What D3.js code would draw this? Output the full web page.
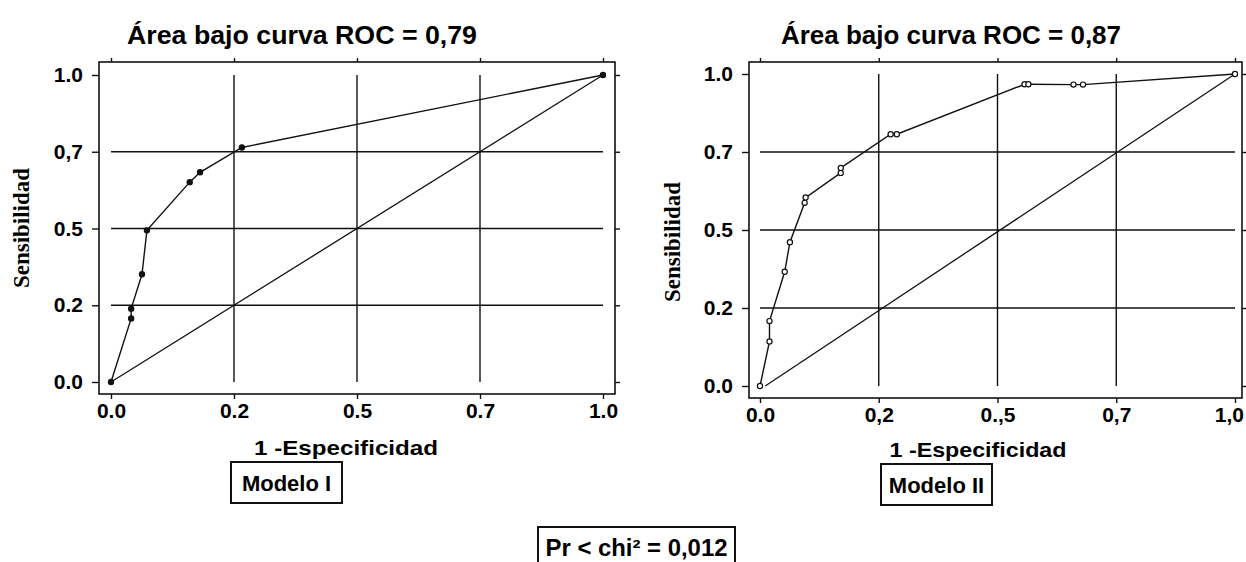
<!DOCTYPE html>
<html><head><meta charset="utf-8">
<script src="https://cdn.jsdelivr.net/npm/d3@7"></script>
<style>body{margin:0;background:#fff}svg{display:block}</style>
</head><body><svg id="c" width="1246" height="562"></svg>
<script>
// ---- data ----
const tickValues = [0, 0.25, 0.5, 0.75, 1];
const leftXLabels = ["0.0", "0.2", "0.5", "0.7", "1.0"];
const leftYLabels = ["0.0", "0.2", "0.5", "0,7", "1.0"];
const rightXLabels = ["0.0", "0,2", "0.,5", "0,7", "1,0"];
const rightYLabels = ["0.0", "0.2", "0.5", "0.7", "1.0"];
const model1FPR = [0, 0.041, 0.041, 0.063, 0.073, 0.160, 0.181, 0.266, 1];
const model1TPR = [0, 0.207, 0.239, 0.351, 0.494, 0.651, 0.683, 0.764, 1];
const model2FPR = [0, 0.020, 0.020, 0.052, 0.063, 0.094, 0.096, 0.170, 0.170, 0.275, 0.288, 0.557, 0.565, 0.660, 0.680, 1];
const model2TPR = [0, 0.143, 0.208, 0.366, 0.461, 0.587, 0.604, 0.683, 0.699, 0.807, 0.807, 0.967, 0.967, 0.966, 0.966, 1];
const diag1FPR = [0, 1], diag1TPR = [0, 1];
const diag2FPR = [0.011, 1], diag2TPR = [0, 1];
const titles = ["Área bajo curva ROC = 0,79", "Área bajo curva ROC = 0,87"];
const xTitle = "1 -Especificidad";
const yTitle = "Sensibilidad";
const modelLabels = ["Modelo I", "Modelo II"];
const testLabel = "Pr < chi² = 0,012";

// ---- layout ----
const SANS = "'Liberation Sans', Arial, Helvetica, sans-serif";
const SERIF = "'Liberation Serif', 'Times New Roman', serif";
const svg = d3.select("#c");

const panels = [
  { xr: [111, 603], yr: [382, 75], frame: [99, 62, 615, 394], fpr: model1FPR, tpr: model1TPR,
    dx: diag1FPR, dy: diag1TPR, xl: leftXLabels, yl: leftYLabels, filled: true,
    title: titles[0], titleX: 302, titleW: 350, ytX: 22, ytY: 228,
    xtX: 346, xtY: 455, xtW: 184, box: [231, 462, 342, 503], label: modelLabels[0] },
  { xr: [760, 1235], yr: [386, 74], frame: [749, 62, 1242, 398], fpr: model2FPR, tpr: model2TPR,
    dx: diag2FPR, dy: diag2TPR, xl: rightXLabels, yl: rightYLabels, filled: false,
    title: titles[1], titleX: 951, titleW: 340, ytX: 673, ytY: 242,
    xtX: 978, xtY: 457, xtW: 177, box: [881, 464, 992, 505], label: modelLabels[1] }
];

function stretch(sel, w) {
  sel.attr("textLength", w).attr("lengthAdjust", "spacingAndGlyphs");
}

panels.forEach(p => {
  const g = svg.append("g");
  const x = d3.scaleLinear().domain([0, 1]).range(p.xr);
  const y = d3.scaleLinear().domain([0, 1]).range(p.yr);
  const [fx0, fy0, fx1, fy1] = p.frame;

  // frame
  g.append("rect").attr("x", fx0).attr("y", fy0).attr("width", fx1 - fx0).attr("height", fy1 - fy0)
    .attr("fill", "none").attr("stroke", "#111").attr("stroke-width", 1.6);

  // grid lines (interior ticks only)
  const inner = tickValues.filter(v => v > 0 && v < 1);
  g.selectAll(".vg").data(inner).join("line")
    .attr("x1", d => x(d)).attr("x2", d => x(d)).attr("y1", y(1)).attr("y2", y(0))
    .attr("stroke", "#111").attr("stroke-width", 1.4);
  g.selectAll(".hg").data(inner).join("line")
    .attr("y1", d => y(d)).attr("y2", d => y(d)).attr("x1", x(0)).attr("x2", x(1))
    .attr("stroke", "#111").attr("stroke-width", 1.4);

  // axes (ticks outside the frame)
  const fmtX = (d, i) => p.xl[i], fmtY = (d, i) => p.yl[i];
  const axB = g.append("g").attr("transform", `translate(0,${fy1})`)
    .call(d3.axisBottom(x).tickValues(tickValues).tickFormat(fmtX).tickSize(5).tickPadding(4));
  const axL = g.append("g").attr("transform", `translate(${fx0},0)`)
    .call(d3.axisLeft(y).tickValues(tickValues).tickFormat(fmtY).tickSize(7).tickPadding(9));
  const axT = g.append("g").attr("transform", `translate(0,${fy0})`)
    .call(d3.axisTop(x).tickValues(tickValues).tickFormat("").tickSize(4));
  const axR = g.append("g").attr("transform", `translate(${fx1},0)`)
    .call(d3.axisRight(y).tickValues(tickValues).tickFormat("").tickSize(5));
  [axB, axL, axT, axR].forEach(a => {
    a.select(".domain").remove();
    a.selectAll("line").attr("stroke", "#111").attr("stroke-width", 1.4);
    a.selectAll("text").attr("fill", "#000").style("font-family", SANS)
      .style("font-weight", "bold").style("font-size", "21px");
  });
  // keep the last x label inside the page
  axB.selectAll("text").each(function () {
    const bb = this.getBBox();
    const tx = +this.parentNode.getAttribute("transform").match(/translate\(([-\d.]+)/)[1];
    const over = tx + bb.x + bb.width - 1244;
    if (over > 0) d3.select(this).attr("dx", -over);
  });

  // diagonal reference
  const line = d3.line().x(d => x(d[0])).y(d => y(d[1]));
  g.append("path").datum(p.dx.map((v, i) => [v, p.dy[i]])).attr("d", line)
    .attr("fill", "none").attr("stroke", "#111").attr("stroke-width", 1.3);

  // ROC curve
  const pts = p.fpr.map((v, i) => [v, p.tpr[i]]);
  g.append("path").datum(pts).attr("d", line)
    .attr("fill", "none").attr("stroke", "#111").attr("stroke-width", 1.4);
  g.selectAll(".pt").data(pts).join("circle")
    .attr("cx", d => x(d[0])).attr("cy", d => y(d[1])).attr("r", 2.6)
    .attr("fill", p.filled ? "#111" : "#fff").attr("stroke", "#111").attr("stroke-width", 1.2);

  // title
  svg.append("text").attr("x", p.titleX).attr("y", 44).attr("text-anchor", "middle")
    .style("font-family", SANS).style("font-weight", "bold").style("font-size", "26px")
    .text(p.title).call(stretch, p.titleW);

  // axis titles
  svg.append("text").attr("x", p.xtX).attr("y", p.xtY).attr("text-anchor", "middle")
    .style("font-family", SANS).style("font-weight", "bold").style("font-size", "21px")
    .text(xTitle).call(stretch, p.xtW);
  svg.append("text").attr("transform", `translate(${p.ytX + 7},${p.ytY}) rotate(-90)`)
    .attr("text-anchor", "middle")
    .style("font-family", SERIF).style("font-weight", "bold").style("font-size", "23px")
    .text(yTitle);

  // model label box
  const [bx0, by0, bx1, by1] = p.box;
  svg.append("rect").attr("x", bx0).attr("y", by0).attr("width", bx1 - bx0).attr("height", by1 - by0)
    .attr("fill", "none").attr("stroke", "#111").attr("stroke-width", 2);
  svg.append("text").attr("x", (bx0 + bx1) / 2).attr("y", (by0 + by1) / 2 + 8).attr("text-anchor", "middle")
    .style("font-family", SANS).style("font-weight", "bold").style("font-size", "22px")
    .text(p.label);
});

// chi-square test box (open at the bottom, cut by the page edge)
const tb = [538, 527, 735, 575];
svg.append("path")
  .attr("d", `M${tb[0]},${tb[3]}V${tb[1]}H${tb[2]}V${tb[3]}`)
  .attr("fill", "none").attr("stroke", "#111").attr("stroke-width", 2);
svg.append("text").attr("x", (tb[0] + tb[2]) / 2).attr("y", 556).attr("text-anchor", "middle")
  .style("font-family", SANS).style("font-weight", "bold").style("font-size", "23px")
  .text(testLabel).call(stretch, 182);
</script></body></html>
